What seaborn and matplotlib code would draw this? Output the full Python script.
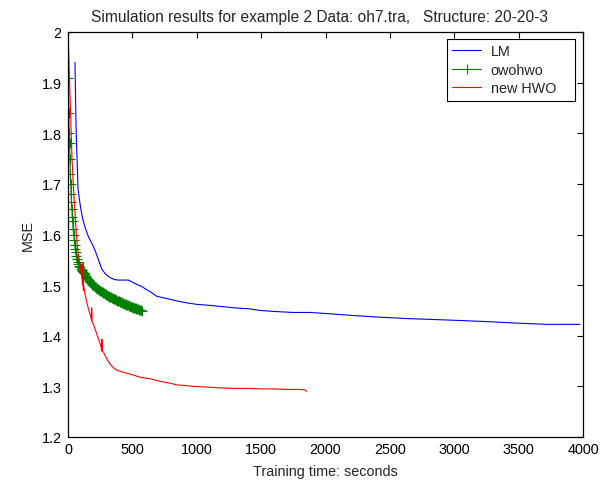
import numpy as np
import pandas as pd
import matplotlib
matplotlib.use("Agg")
import matplotlib.pyplot as plt
import seaborn as sns

# ---- data ----
lm_t = [54, 58, 62, 66, 70, 78, 88, 100, 115, 135, 160, 200, 230, 262, 290, 326, 360, 391,
        430, 469, 500, 530, 559, 600, 650, 689, 740, 792, 860, 922, 1000, 1100, 1181, 1300,
        1414, 1491, 1600, 1748, 1880, 2000, 2214, 2400, 2630, 2850, 3058, 3250, 3485, 3718, 3977]
lm_v = [1.94, 1.88, 1.82, 1.78, 1.75, 1.69, 1.67, 1.65, 1.63, 1.612, 1.595, 1.575, 1.555, 1.532,
        1.522, 1.515, 1.511, 1.51, 1.51, 1.51, 1.506, 1.502, 1.499, 1.493, 1.485, 1.478, 1.475,
        1.472, 1.468, 1.465, 1.462, 1.46, 1.458, 1.455, 1.453, 1.45, 1.448, 1.446, 1.446, 1.444,
        1.440, 1.437, 1.434, 1.432, 1.430, 1.428, 1.425, 1.4225, 1.4225]

ow_t = [0, 3, 6, 9, 12, 15, 18, 21, 24, 27, 30, 33, 36, 40, 44, 48, 52, 56, 60, 65,
        70, 75, 80, 86, 92,
        100, 106, 112, 118, 124, 130, 136, 142, 148, 154, 160, 166, 172, 178, 184, 190,
        196, 202, 208, 214, 220, 226, 232, 238, 244, 250, 256, 262, 268, 274, 280, 286,
        292, 298, 304, 310, 316, 322, 328, 334, 340, 346, 352, 358, 364, 370, 376, 382,
        388, 394, 400, 406, 412, 418, 424, 430, 436, 442, 448, 454, 460, 466, 472, 478,
        484, 490, 496, 502, 508, 514, 520, 526, 532, 538, 544, 550, 556, 562, 568, 575]
ow_v = [2.0, 1.91, 1.84, 1.80, 1.78, 1.75, 1.72, 1.70, 1.68, 1.665, 1.65, 1.634, 1.627, 1.61, 1.60, 1.59, 1.58, 1.572, 1.565, 1.558,
        1.552, 1.546, 1.541, 1.538, 1.535,
        1.531, 1.530, 1.528, 1.526, 1.524, 1.521, 1.519, 1.516, 1.514, 1.512, 1.510, 1.508, 1.506, 1.504, 1.503, 1.501,
        1.500, 1.498, 1.497, 1.496, 1.495, 1.493, 1.492, 1.491, 1.490, 1.489, 1.488, 1.487, 1.486, 1.485, 1.484, 1.483,
        1.482, 1.481, 1.480, 1.479, 1.478, 1.477, 1.477, 1.476, 1.475, 1.474, 1.473, 1.472, 1.472, 1.471, 1.470, 1.469,
        1.469, 1.468, 1.467, 1.466, 1.466, 1.465, 1.464, 1.464, 1.463, 1.462, 1.462, 1.461, 1.460, 1.460, 1.459, 1.458,
        1.458, 1.457, 1.457, 1.456, 1.455, 1.455, 1.454, 1.454, 1.453, 1.452, 1.452, 1.451, 1.451, 1.450, 1.450, 1.449]

hwo_t = [0, 10, 20, 31, 45, 55, 65, 75, 90, 105, 115, 118, 119, 121, 130, 145, 160, 175, 183, 184,
         186, 197, 215, 235, 255, 262, 263, 266, 275, 300, 330, 365, 400, 456, 500, 559, 640, 715, 780, 844,
         900, 973, 1050, 1181, 1300, 1414, 1491, 1600, 1700, 1800, 1840, 1854]
hwo_v = [2.0, 1.92, 1.84, 1.75, 1.68, 1.64, 1.60, 1.57, 1.545, 1.52, 1.50, 1.545, 1.49, 1.50, 1.485, 1.467, 1.452, 1.44, 1.43, 1.455,
         1.428, 1.423, 1.41, 1.395, 1.38, 1.37, 1.393, 1.37, 1.368, 1.355, 1.343, 1.334, 1.33, 1.326, 1.323, 1.318, 1.315, 1.31, 1.307, 1.303,
         1.302, 1.300, 1.299, 1.297, 1.296, 1.296, 1.295, 1.295, 1.294, 1.294, 1.293, 1.29]

x_ticks = [0, 500, 1000, 1500, 2000, 2500, 3000, 3500, 4000]
y_ticks = [1.2, 1.3, 1.4, 1.5, 1.6, 1.7, 1.8, 1.9, 2.0]
y_labels = ["1.2", "1.3", "1.4", "1.5", "1.6", "1.7", "1.8", "1.9", "2"]

sns.set_theme(style="white")
plt.rcParams['font.family'] = ['Liberation Sans', 'DejaVu Sans']

FS = 10.4

fig = plt.figure(figsize=(6.08, 4.85), dpi=100)
ax = fig.add_axes([68/608, 1-438/485, (583-68)/608, (438-33)/485])

df_lm = pd.DataFrame({"t": lm_t, "v": lm_v})
df_ow = pd.DataFrame({"t": ow_t, "v": ow_v})
df_hwo = pd.DataFrame({"t": hwo_t, "v": hwo_v})

sns.lineplot(data=df_lm, x="t", y="v", ax=ax, color="#0000ff", lw=0.8, label="LM",
             estimator=None, sort=False)
sns.lineplot(data=df_ow, x="t", y="v", ax=ax, color="#008000", lw=0.8, label="owohwo",
             marker="+", markersize=6.5, markeredgewidth=0.8, markeredgecolor="#008000",
             estimator=None, sort=False)
sns.lineplot(data=df_hwo, x="t", y="v", ax=ax, color="#ff0000", lw=0.8, label="new HWO",
             estimator=None, sort=False)

ax.set_xlim(0, 4000)
ax.set_ylim(1.2, 2.0)
ax.set_xticks(x_ticks)
ax.set_xticklabels([str(v) for v in x_ticks])
ax.set_yticks(y_ticks)
ax.set_yticklabels(y_labels)
ax.tick_params(direction="in", top=True, right=True, length=4, width=0.8,
               labelsize=FS, colors="black")
ax.tick_params(axis="y", pad=4.5)
ax.tick_params(axis="x", pad=3.5)
for s in ax.spines.values():
    s.set_color("black")
    s.set_linewidth(0.9)

ax.set_xlabel("Training time: seconds", fontsize=FS, labelpad=6)
ax.set_ylabel("MSE", fontsize=FS, labelpad=5)
ax.set_title("Simulation results for example 2 Data: oh7.tra,   Structure: 20-20-3",
             fontsize=11.2, pad=8, x=0.488)

leg = ax.legend(loc="upper left",
                bbox_to_anchor=(447/608, 1-103/485, 128/608, 63/485),
                bbox_transform=fig.transFigure, mode="expand",
                fontsize=FS, frameon=True, fancybox=False,
                handlelength=1.95, borderpad=0.38, labelspacing=0.3, handletextpad=0.7,
                borderaxespad=0)
leg.get_frame().set_edgecolor("black")
leg.get_frame().set_linewidth(0.8)
leg.get_frame().set_alpha(1)

fig.savefig("out.png", dpi=100, facecolor="white")
